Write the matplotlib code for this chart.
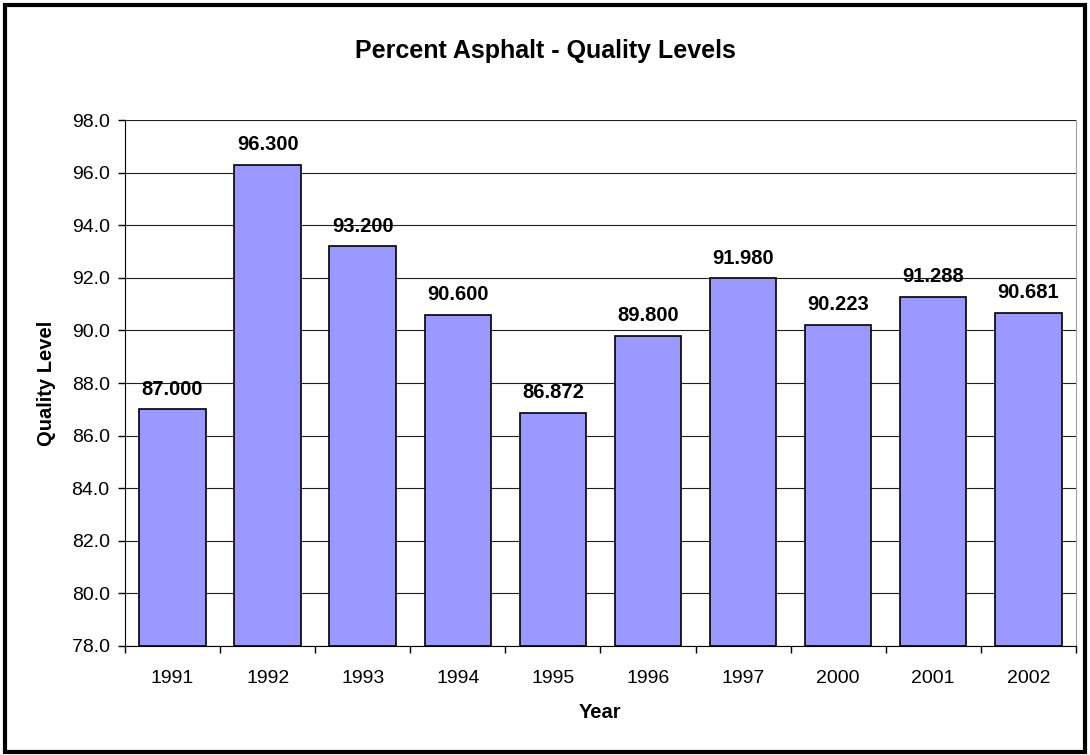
import matplotlib.pyplot as plt
import numpy as np
from matplotlib.patches import Rectangle

years = ['1991', '1992', '1993', '1994', '1995', '1996', '1997', '2000', '2001', '2002']
quality = [87.000, 96.300, 93.200, 90.600, 86.872, 89.800, 91.980, 90.223, 91.288, 90.681]
y_ticks = [78.0, 80.0, 82.0, 84.0, 86.0, 88.0, 90.0, 92.0, 94.0, 96.0, 98.0]

plt.rcParams['font.family'] = ['Liberation Sans', 'DejaVu Sans']

fig = plt.figure(figsize=(10.9, 7.55), dpi=100)
ax = fig.add_axes([0.1147, 0.1444, 0.8723, 0.6966])

x = np.arange(len(years))
ax.bar(x, np.array(quality) - 78.0, bottom=78.0, width=0.7,
       color='#9999FF', edgecolor='black', linewidth=1.2, zorder=3)

for xi, v in zip(x, quality):
    ax.text(xi, v + 0.4, f'{v:.3f}', ha='center', va='bottom',
            fontsize=14.5, fontweight='bold', zorder=4)

ax.set_xlim(-0.5, len(years) - 0.5)
ax.set_ylim(78.0, 98.0)
ax.set_yticks(y_ticks)
ax.set_yticklabels([f'{t:.1f}' for t in y_ticks], fontsize=14)
ax.yaxis.grid(True, color='#202020', linewidth=0.8, zorder=0)

ax.set_xticks(x)
ax.set_xticklabels(years, fontsize=14)
ax.tick_params(axis='x', which='major', length=0, pad=17)
ax.set_xticks(np.arange(-0.5, len(years)), minor=True)
ax.tick_params(axis='x', which='minor', length=5, width=1, direction='out')
ax.tick_params(axis='y', length=5, width=1, direction='out', pad=6)

ax.spines['top'].set_visible(False)
ax.spines['right'].set_color('#A0A0A0')
ax.spines['left'].set_color('black')
ax.spines['bottom'].set_color('black')

ax.set_xlabel('Year', fontsize=14.5, fontweight='bold')
ax.xaxis.label.set_va('center')
ax.xaxis.set_label_coords(0.5, -0.127)
ax.set_ylabel('Quality Level', fontsize=14.5, fontweight='bold')
ax.yaxis.label.set_va('center')
ax.yaxis.set_label_coords(-0.083, 0.5)
fig.text(0.5, 0.932, 'Percent Asphalt - Quality Levels', ha='center', va='center',
         fontsize=18, fontweight='bold')

fig.patches.append(Rectangle((0.005, 0.004), 0.99, 0.99, transform=fig.transFigure,
                             fill=False, edgecolor='black', linewidth=3))

fig.savefig('out.png', dpi=100)
